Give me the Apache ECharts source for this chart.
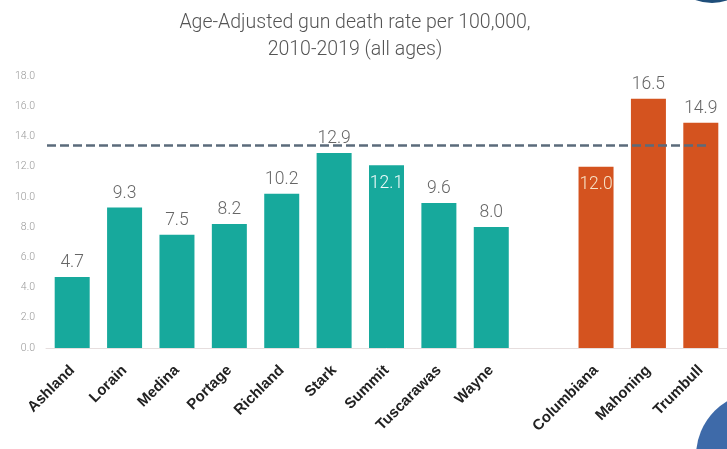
<!DOCTYPE html>
<html><head><meta charset="utf-8">
<script src="https://cdn.jsdelivr.net/npm/echarts@6/dist/echarts.min.js"></script>
<style>html,body{margin:0;padding:0;background:#fff}#c{width:727px;height:449px}</style>
</head><body><div id="c"></div>
<script>
var categories = ['Ashland','Lorain','Medina','Portage','Richland','Stark','Summit','Tuscarawas','Wayne',' ','Columbiana','Mahoning','Trumbull'];
var tealValues = [4.7, 9.3, 7.5, 8.2, 10.2, 12.9, 12.1, 9.6, 8.0, null, null, null, null];
var orangeValues = [null, null, null, null, null, null, null, null, null, null, 12.0, 16.5, 14.9];
var ohioRate = 13.4;
var ohioLabel = 'OH\n(2019)\n= 13.4';
var insideLabelCats = ['Summit','Columbiana'];
var yTicks = {min: 0, max: 18, interval: 2};

function mkData(vals, insideColor) {
  return vals.map(function (v, i) {
    if (v === null) return null;
    var item = {value: v};
    if (insideLabelCats.indexOf(categories[i]) >= 0) {
      item.label = {position: 'insideTop', distance: 9, color: insideColor};
    }
    return item;
  });
}

var chart = echarts.init(document.getElementById('c'));
var labelFont = {show: true, position: 'top', distance: 5, fontFamily: 'Roboto', fontWeight: 300, fontSize: 17.5, color: '#666',
  formatter: function (p) { return p.value.toFixed(1); }};
chart.setOption({
  animation: false,
  title: {
    text: 'Age-Adjusted gun death rate per 100,000,\n2010-2019 (all ages)',
    left: 350, top: 5, textAlign: 'center',
    textStyle: {fontFamily: 'Roboto', fontWeight: 300, fontSize: 19.5, color: '#555', lineHeight: 27}
  },
  grid: {left: 46, top: 76, width: 689, height: 272},
  xAxis: {
    type: 'category', data: categories,
    axisLine: {lineStyle: {color: '#e6dede', width: 1}},
    axisTick: {show: false},
    axisLabel: {rotate: 45, interval: 0, margin: 20, fontFamily: 'Liberation Sans', fontWeight: 'bold', fontSize: 15, color: '#222'}
  },
  yAxis: {
    type: 'value', min: yTicks.min, max: yTicks.max, interval: yTicks.interval,
    splitLine: {show: false}, axisLine: {show: false}, axisTick: {show: false},
    axisLabel: {margin: 11, fontFamily: 'Roboto', fontWeight: 300, fontSize: 10.5, color: '#999', formatter: function (v) { return v.toFixed(1); }}
  },
  series: [
    {
      type: 'bar', data: mkData(tealValues, '#f2fbfa'), barWidth: 35, barGap: '-100%',
      itemStyle: {color: '#17a99c'}, label: labelFont,
      markLine: {
        symbol: 'none', silent: true,
        lineStyle: {type: [9, 4], color: '#5b6b7b', width: 2.5},
        label: {show: false},
        data: [[{coord: [0, ohioRate], x: 47}, {coord: [12, ohioRate], x: 710}]]
      },
      markPoint: {
        symbol: 'none', silent: true,
        data: [{coord: [9, 10.9], value: ohioRate}],
        label: {show: true, position: 'inside', formatter: ohioLabel, fontFamily: 'Liberation Sans', fontWeight: 'bold', fontSize: 13.5, lineHeight: 19, color: '#555', align: 'center'}
      }
    },
    {
      type: 'bar', data: mkData(orangeValues, '#f6e3c8'), barWidth: 35,
      itemStyle: {color: '#d4531f'}, label: labelFont
    }
  ],
  graphic: [
    {type: 'circle', shape: {cx: 760, cy: 456, r: 64}, style: {fill: '#3e6aa9'}, silent: true},
    {type: 'circle', shape: {cx: 712, cy: -45, r: 48}, style: {fill: '#1f4e7a'}, silent: true}
  ]
});
</script>
</body></html>
